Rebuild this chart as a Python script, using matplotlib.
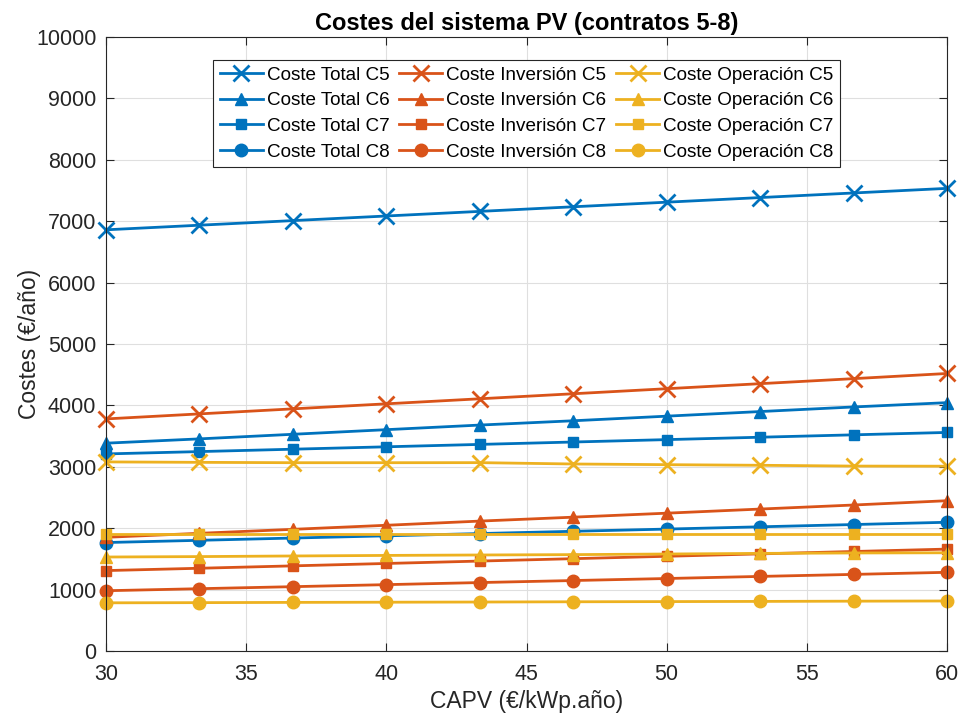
import matplotlib
matplotlib.use("Agg")
import matplotlib.pyplot as plt

plt.rcParams['font.family'] = ['Liberation Sans', 'DejaVu Sans']

capv = [30, 33.33, 36.67, 40, 43.33, 46.67, 50, 53.33, 56.67, 60]

total_c5 = [6860, 6935, 7010, 7085, 7160, 7235, 7310, 7385, 7460, 7535]
inv_c5 = [3780, 3862, 3944, 4026, 4108, 4190, 4272, 4354, 4436, 4520]
op_c5 = [3080, 3073, 3067, 3067, 3068, 3046, 3035, 3025, 3012, 3010]

total_c6 = [3385, 3455, 3530, 3605, 3680, 3750, 3825, 3900, 3975, 4045]
inv_c6 = [1852, 1917, 1982, 2048, 2116, 2180, 2245, 2312, 2378, 2448]
op_c6 = [1531, 1538, 1548, 1557, 1564, 1570, 1580, 1590, 1597, 1600]

total_c7 = [3210, 3248, 3287, 3326, 3365, 3404, 3443, 3482, 3521, 3560]
inv_c7 = [1310, 1348, 1387, 1426, 1465, 1504, 1543, 1582, 1621, 1660]
op_c7 = [1900, 1900, 1900, 1900, 1900, 1900, 1900, 1900, 1900, 1900]

total_c8 = [1767, 1803, 1840, 1876, 1913, 1950, 1986, 2023, 2060, 2097]
inv_c8 = [982, 1015, 1048, 1081, 1115, 1148, 1181, 1215, 1248, 1282]
op_c8 = [785, 788, 792, 795, 798, 802, 805, 808, 812, 815]

blue = '#0072BD'
orange = '#D95319'
yellow = '#EDB120'

fig = plt.figure(figsize=(9.62, 7.2), dpi=100)
ax = fig.add_axes([0.1102, 0.0958, 0.8742, 0.8528])

styles = {'x': dict(marker='x', markersize=11, markeredgewidth=2),
          '^': dict(marker='^', markersize=9),
          's': dict(marker='s', markersize=7),
          'o': dict(marker='o', markersize=9)}

groups = [
    ('Coste Total', blue, [total_c5, total_c6, total_c7, total_c8]),
    ('Coste Inversión', orange, [inv_c5, inv_c6, inv_c7, inv_c8]),
    ('Coste Operación', yellow, [op_c5, op_c6, op_c7, op_c8]),
]
marks = ['x', '^', 's', 'o']
contracts = ['C5', 'C6', 'C7', 'C8']

handles = []
for name, color, series in groups:
    for mk, c, vals in zip(marks, contracts, series):
        label = f'{name} {c}'
        if name == 'Coste Inversión' and c == 'C7':
            label = 'Coste Inverisón C7'
        h, = ax.plot(capv, vals, color=color, linewidth=2, label=label,
                     clip_on=False, **styles[mk])
        handles.append(h)

ax.set_xlim(30, 60)
ax.set_ylim(0, 10000)
ax.set_xticks([30, 35, 40, 45, 50, 55, 60])
ax.set_yticks(range(0, 10001, 1000))
ax.grid(True, color='#dfdfdf', linewidth=0.8)
ax.set_axisbelow(True)
ax.tick_params(direction='in', labelsize=15.5, length=6, width=0.8,
               top=True, right=True, colors='#262626')
ax.tick_params(axis='x', pad=9)
ax.tick_params(axis='y', pad=7)
for s in ax.spines.values():
    s.set_color('#262626')
    s.set_linewidth(0.8)

ax.set_xlabel('CAPV (€/kWp.año)', fontsize=16.5, color='#262626', labelpad=4)
ax.set_ylabel('Costes (€/año)', fontsize=16.5, color='#262626', labelpad=-4)
ax.set_title('Costes del sistema PV (contratos 5-8)', fontsize=17,
             fontweight='bold', color='black', pad=5)

leg = ax.legend(handles=handles, ncol=3, loc='upper center',
                bbox_to_anchor=(0.5, 0.963), fontsize=13.6, frameon=True,
                fancybox=False, edgecolor='#262626', framealpha=1,
                handlelength=2.3, handletextpad=0.2, columnspacing=0.5,
                labelspacing=0.45, borderpad=0.35, borderaxespad=0)
leg.get_frame().set_linewidth(0.8)

fig.savefig('out.png', dpi=100)
